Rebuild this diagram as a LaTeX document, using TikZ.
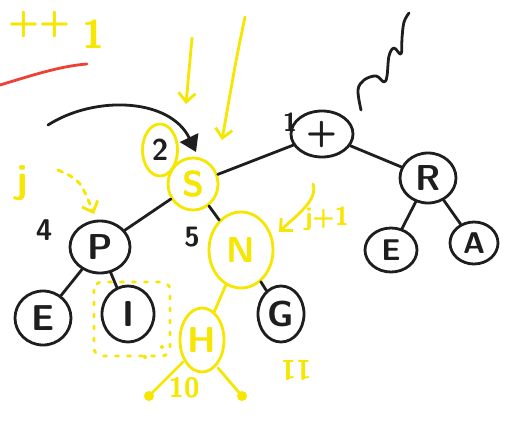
\documentclass[tikz,border=0pt]{standalone}
\usetikzlibrary{shapes.geometric,arrows.meta}
\definecolor{ink}{RGB}{30,30,30}
\definecolor{hl}{RGB}{246,230,0}
\definecolor{redpen}{RGB}{238,64,52}
\newcommand{\hand}[1]{\sffamily\bfseries\fontsize{#1}{#1}\selectfont}
\begin{document}
\begin{tikzpicture}[x=1pt,y=-1pt,
  pen/.style={line width=2.8pt,line cap=round,line join=round},
  tnode/.style={ellipse,draw=ink,pen,inner sep=0pt,text=ink,font=\hand{36}},
  ynode/.style={tnode,draw=hl,text=hl},
  link/.style={draw=ink,pen},
  ylink/.style={link,draw=hl},
  inknote/.style={text=ink,inner sep=0pt,font=\hand{30}},
  hlnote/.style={inknote,text=hl},
  barb/.style={-{Straight Barb[length=9pt,width=17pt,line width=2.8pt]}},
  bigtip/.style={-{Triangle[length=16pt,width=20pt]}}
]
\useasboundingbox[fill=white] (0,0) rectangle (505,420);

% tree nodes
\node[tnode,minimum width=62pt,minimum height=46pt] (plus) at (322,134) {+};
\node[ynode,minimum width=50pt,minimum height=52pt] (S) at (193,184) {S};
\node[ynode,minimum width=35pt,minimum height=52pt,text=ink,font=\hand{30}] (two) at (160,150) {2};
\node[tnode,minimum width=60pt,minimum height=52pt] (P) at (100,247) {P};
\node[tnode,minimum width=56pt,minimum height=54pt] (E) at (43,318) {E};
\node[tnode,minimum width=52pt,minimum height=56pt] (I) at (128,314) {I};
\node[ynode,minimum width=64pt,minimum height=76pt] (N) at (241,250) {N};
\node[tnode,minimum width=46pt,minimum height=56pt] (G) at (281,314) {G};
\node[ynode,minimum width=44pt,minimum height=64pt] (H) at (202,340) {H};
\node[tnode,minimum width=56pt,minimum height=50pt] (R) at (428,178) {R};
\node[tnode,minimum width=52pt,minimum height=44pt,font=\hand{30}] (O) at (391,250) {E};
\node[tnode,minimum width=48pt,minimum height=42pt,font=\hand{30}] (A) at (474,243) {A};

% tree edges
\draw[link] (plus) -- (S);
\draw[link] (plus) -- (R);
\draw[link] (R) -- (O);
\draw[link] (R) -- (A);
\draw[link] (S) -- (P);
\draw[link] (S) -- (N);
\draw[link] (P) -- (E);
\draw[link] (P) -- (I);
\draw[link] (N) -- (G);
\draw[ylink] (N) -- (H);

% index labels
\node[inknote,font=\hand{26}] (lplus) at (290,122) {1};
\node[inknote] (lfour) at (44,230) {4};
\node[inknote,font=\hand{28}] (lfive) at (192,237) {5};

% yellow notes
\node[hlnote,font=\hand{36}] (pp) at (39,25) {++};
\node[hlnote,font=\hand{40}] (one) at (93,34) {1};
\node[hlnote,font=\hand{40}] (jj) at (22,183) {j};
\node[hlnote,font=\hand{26}] (jp) at (327,219) {j+1};
\node[hlnote,font=\hand{28}] (ten) at (184,388) {10};
\node[hlnote,font=\hand{28},rotate=180] (eleven) at (296,371) {11};

% red stroke
\draw[pen,draw=redpen] (0,85) .. controls (30,76) and (60,66) .. (87,64);

% squiggle above the root
\draw[link] plot[smooth,tension=0.6] coordinates {(361,110) (358,90) (364,80) (376,76)
  (384,82) (387,76) (389,56) (394,48) (401,54) (402,38) (404,22) (409,13)};

% black curved arrow onto S
\coordinate (ca) at (48,125);
\coordinate (cb) at (196,152);
\draw[link,bigtip] (ca) .. controls (95,95) and (170,98) .. (cb);

% yellow arrows from above
\coordinate (ya1) at (192,38);
\coordinate (yb1) at (186,104);
\draw[ylink,barb] (ya1) .. controls (190,60) .. (yb1);
\coordinate (ya2) at (245,17);
\coordinate (yb2) at (222,140);
\draw[ylink,barb] (ya2) .. controls (236,60) .. (yb2);

% dashed yellow arrow onto P
\coordinate (da) at (58,170);
\coordinate (db) at (94,214);
\draw[ylink,dash pattern=on 5pt off 6pt,barb] (da) .. controls (80,180) .. (db);

% arrow from the j+1 note
\coordinate (ja) at (313,184);
\coordinate (jb) at (279,232);
\draw[ylink,barb] (ja) .. controls (318,200) and (298,214) .. (jb);

% dotted frame round I
\draw[ylink,dash pattern=on 3pt off 9pt,rounded corners=8pt]
  (94,282) rectangle (170,356);

% marks below H
\coordinate (hl1) at (183,362);
\coordinate (hl2) at (149,396);
\draw[ylink] (hl1) -- (hl2);
\fill[hl] (hl2) circle (5pt);
\coordinate (hr1) at (218,368);
\coordinate (hr2) at (242,396);
\draw[ylink] (hr1) -- (hr2);
\fill[hl] (hr2) circle (5pt);
\fill[hl] (145,357) circle (2pt);
\fill[hl] (162,347) circle (2pt);
\end{tikzpicture}
\end{document}
